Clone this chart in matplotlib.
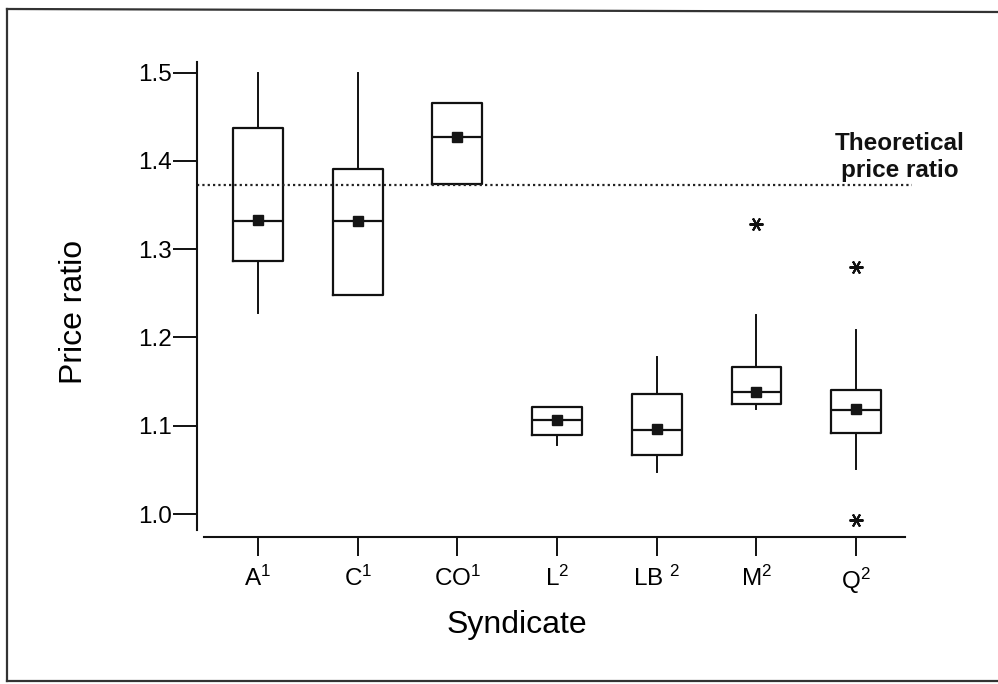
import matplotlib
matplotlib.use("Agg")
import matplotlib.pyplot as plt
from matplotlib.lines import Line2D

plt.rcParams['font.family'] = ['Liberation Sans', 'DejaVu Sans']
plt.rcParams['mathtext.fontset'] = 'custom'
plt.rcParams['mathtext.rm'] = 'Liberation Sans'
plt.rcParams['mathtext.it'] = 'Liberation Sans'
plt.rcParams['mathtext.bf'] = 'Liberation Sans:bold'

# ---- data ----
syndicates = ['A', 'C', 'CO', 'L', 'LB', 'M', 'Q']
tick_labels = [r'A$^{1}$', r'C$^{1}$', r'CO$^{1}$', r'L$^{2}$', r'LB$\ ^{2}$', r'M$^{2}$', r'Q$^{2}$']
q1      = [1.287, 1.248, 1.374, 1.089, 1.067, 1.125, 1.092]
median  = [1.332, 1.332, 1.427, 1.107, 1.095, 1.138, 1.118]
q3      = [1.437, 1.391, 1.465, 1.121, 1.136, 1.167, 1.140]
whislo  = [1.228, 1.248, 1.374, 1.078, 1.048, 1.119, 1.051]
whishi  = [1.499, 1.500, 1.465, 1.121, 1.178, 1.226, 1.209]
means   = [1.333, 1.332, 1.427, 1.107, 1.096, 1.138, 1.119]
outliers = [[], [], [], [], [], [1.329], [1.280, 0.993]]
theoretical_ratio = 1.373
y_ticks = [1.0, 1.1, 1.2, 1.3, 1.4, 1.5]

W, H = 998, 684
fig = plt.figure(figsize=(W / 100, H / 100), dpi=100)
ax = fig.add_axes([197 / W, 1 - 537 / H, (905 - 197) / W, (537 - 62) / H])

stats = []
for i in range(len(syndicates)):
    stats.append(dict(label=syndicates[i], q1=q1[i], med=median[i], q3=q3[i],
                      whislo=whislo[i], whishi=whishi[i], mean=means[i],
                      fliers=outliers[i]))

positions = list(range(1, len(syndicates) + 1))
lc = '#111111'
ax.bxp(stats, positions=positions, widths=0.5, showmeans=True, showcaps=False,
       boxprops=dict(color=lc, linewidth=1.6),
       medianprops=dict(color=lc, linewidth=1.6),
       whiskerprops=dict(color=lc, linewidth=1.4),
       meanprops=dict(marker='s', markersize=7, markerfacecolor='#151515',
                      markeredgecolor='#151515'),
       flierprops=dict(marker=(6, 2, 90), markersize=10, markeredgecolor=lc,
                       markeredgewidth=1.5, linestyle='none'))

ax.set_xlim(0.388, 7.49)
ax.set_ylim(0.974, 1.512)

# theoretical line
ax.plot([0.388, 7.56], [theoretical_ratio, theoretical_ratio], color='#222222',
        linestyle=(0, (1, 1.4)), linewidth=1.6, clip_on=False)
ax.text(7.44, 1.376, 'Theoretical\nprice ratio', ha='center', va='bottom',
        fontsize=17.5, fontweight='bold', color='#111111', linespacing=1.2)

# spines
for s in ['top', 'right']:
    ax.spines[s].set_visible(False)
ax.spines['left'].set_bounds(0.982, 1.512)
ax.spines['bottom'].set_bounds(0.458, 7.49)
ax.spines['left'].set_linewidth(1.5)
ax.spines['bottom'].set_linewidth(1.5)
ax.spines['left'].set_color(lc)
ax.spines['bottom'].set_color(lc)

ax.set_yticks(y_ticks)
ax.set_yticklabels([f'{v:.1f}' for v in y_ticks])
ax.set_xticks(positions)
ax.set_xticklabels(tick_labels)
ax.tick_params(axis='y', length=17, width=1.4, pad=1, labelsize=17.5, color=lc)
ax.tick_params(axis='x', length=13.5, width=1.4, pad=7, labelsize=17.5, color=lc)

ax.set_xlabel('Syndicate', fontsize=23)
ax.set_ylabel('Price ratio', fontsize=23)
ax.xaxis.set_label_coords(0.452, -0.154)
ax.yaxis.set_label_coords(-0.152, 0.473)

# outer frame
frame_c = '#333333'
fig.add_artist(Line2D([7 / W, 7 / W], [1 - 9 / H, 1 - 681 / H], color=frame_c, lw=1.6))
fig.add_artist(Line2D([7 / W, 1.0], [1 - 9 / H, 1 - 12 / H], color=frame_c, lw=1.6))
fig.add_artist(Line2D([7 / W, 1.0], [1 - 681 / H, 1 - 681 / H], color=frame_c, lw=1.6))

fig.savefig('out.png', dpi=100)
